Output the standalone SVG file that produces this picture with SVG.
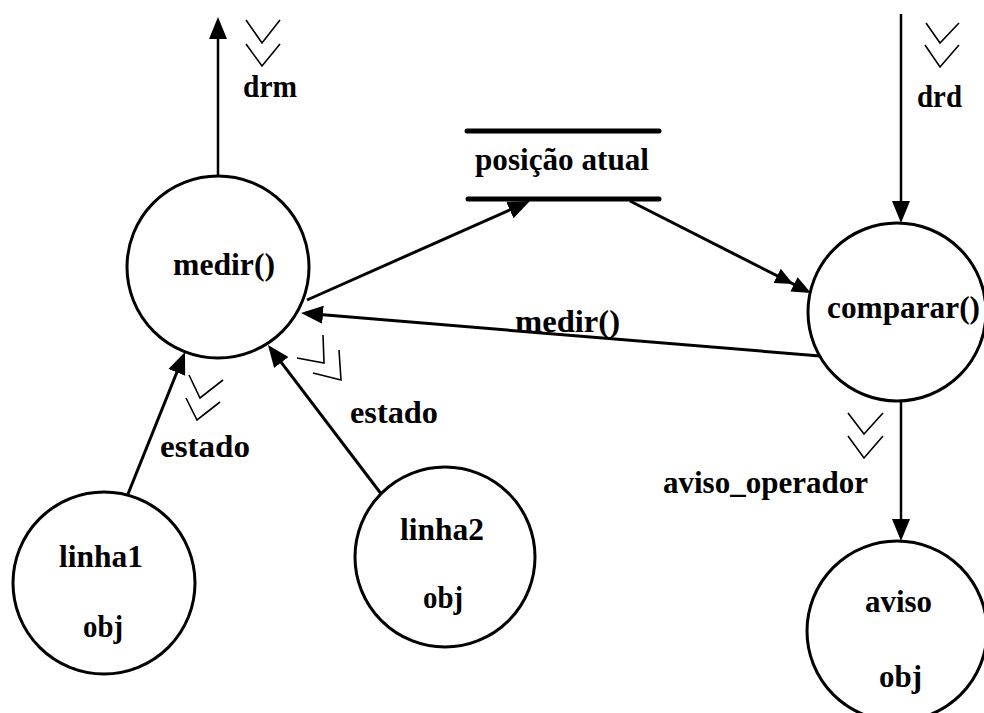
<svg xmlns="http://www.w3.org/2000/svg" width="984" height="713" viewBox="0 0 984 713">
  <style>
    .node { fill: #fff; stroke: #000; stroke-width: 3; }
    .bar { stroke: #000; stroke-width: 5; stroke-linecap: round; }
    .flow { fill: none; stroke: #000; stroke-width: 3; }
    .thin { fill: none; stroke: #000; stroke-width: 2.5; }
    .chev { fill: none; stroke: #000; stroke-width: 1.6; }
    text { font-family: "Liberation Serif", "Times New Roman", serif; font-weight: bold; font-size: 31px; fill: #000; }
  </style>
  <defs>
    <marker id="arrow" markerUnits="userSpaceOnUse" viewBox="0 0 22 20" markerWidth="22" markerHeight="20" refX="18" refY="10" orient="auto">
      <path d="M0,1 L22,10 L0,19 z" fill="#000"/>
    </marker>
    <marker id="arrow2" markerUnits="userSpaceOnUse" viewBox="0 0 38 20" markerWidth="38" markerHeight="20" refX="34" refY="10" orient="auto">
      <path d="M0,2 L18,10 L0,18 z M19,2 L38,10 L19,18 z" fill="#000"/>
    </marker>
  </defs>

  <!-- data flows -->
  <g id="connectors">
    <line class="thin" x1="218" y1="177" x2="218" y2="21" marker-end="url(#arrow)"/>
    <line class="thin" x1="901" y1="14" x2="901" y2="219" marker-end="url(#arrow)"/>
    <line class="thin" x1="901" y1="402" x2="901" y2="537" marker-end="url(#arrow)"/>
    <line class="flow" x1="307" y1="300" x2="526.3" y2="202.6" marker-end="url(#arrow)"/>
    <line class="flow" x1="630" y1="201" x2="807.4" y2="291.2" marker-end="url(#arrow2)"/>
    <line class="flow" x1="820" y1="356" x2="305" y2="313.3" marker-end="url(#arrow)"/>
    <line class="flow" x1="128" y1="494" x2="183.5" y2="355.7" marker-end="url(#arrow)"/>
    <line class="flow" x1="382" y1="495" x2="270.4" y2="348.2" marker-end="url(#arrow)"/>

    <!-- double chevrons -->
    <polyline class="chev" points="246,20 262,43 280,20"/>
    <polyline class="chev" points="246,44 262,66 280,44"/>
    <polyline class="chev" points="926,23 940,43 959,23"/>
    <polyline class="chev" points="925,45 940,67 959,45"/>
    <polyline class="chev" points="848,413 864,434 883,413"/>
    <polyline class="chev" points="848,436 864,458 883,436"/>
    <polyline class="chev" points="189,375 200,398 223,380"/>
    <polyline class="chev" points="186,398 197,420 220,402"/>
    <polyline class="chev" points="297,358 324,363 323,335"/>
    <polyline class="chev" points="313,373 341,380 339,350"/>

    <!-- flow labels -->
    <text x="243" y="97" textLength="54" lengthAdjust="spacingAndGlyphs">drm</text>
    <text x="917" y="107" textLength="45" lengthAdjust="spacingAndGlyphs">drd</text>
    <text x="515" y="332" textLength="105" lengthAdjust="spacingAndGlyphs">medir()</text>
    <text x="160" y="457" textLength="90" lengthAdjust="spacingAndGlyphs">estado</text>
    <text x="350" y="423" textLength="88" lengthAdjust="spacingAndGlyphs">estado</text>
    <text x="663" y="493" textLength="205" lengthAdjust="spacingAndGlyphs">aviso_operador</text>
  </g>

  <g id="posicao">
    <line class="bar" x1="467" y1="131" x2="659" y2="131"/>
    <line class="bar" x1="468" y1="199" x2="659" y2="199"/>
    <text x="475" y="170" textLength="174" lengthAdjust="spacingAndGlyphs">posição atual</text>
  </g>

  <g id="medir">
    <circle class="node" cx="218" cy="267" r="91"/>
    <text x="173" y="275" textLength="102" lengthAdjust="spacingAndGlyphs">medir()</text>
  </g>

  <g id="comparar">
    <circle class="node" cx="897" cy="312" r="89"/>
    <text x="827" y="318" textLength="153" lengthAdjust="spacingAndGlyphs">comparar()</text>
  </g>

  <g id="linha1">
    <circle class="node" cx="104" cy="583" r="91"/>
    <text x="59" y="567" textLength="84" lengthAdjust="spacingAndGlyphs">linha1</text>
    <text x="83" y="637" textLength="40" lengthAdjust="spacingAndGlyphs">obj</text>
  </g>

  <g id="linha2">
    <circle class="node" cx="445" cy="557" r="90"/>
    <text x="400" y="540" textLength="84" lengthAdjust="spacingAndGlyphs">linha2</text>
    <text x="423" y="608" textLength="40" lengthAdjust="spacingAndGlyphs">obj</text>
  </g>

  <g id="aviso">
    <circle class="node" cx="897" cy="631" r="90"/>
    <text x="865" y="612" textLength="67" lengthAdjust="spacingAndGlyphs">aviso</text>
    <text x="879" y="687" textLength="43" lengthAdjust="spacingAndGlyphs">obj</text>
  </g>
</svg>
